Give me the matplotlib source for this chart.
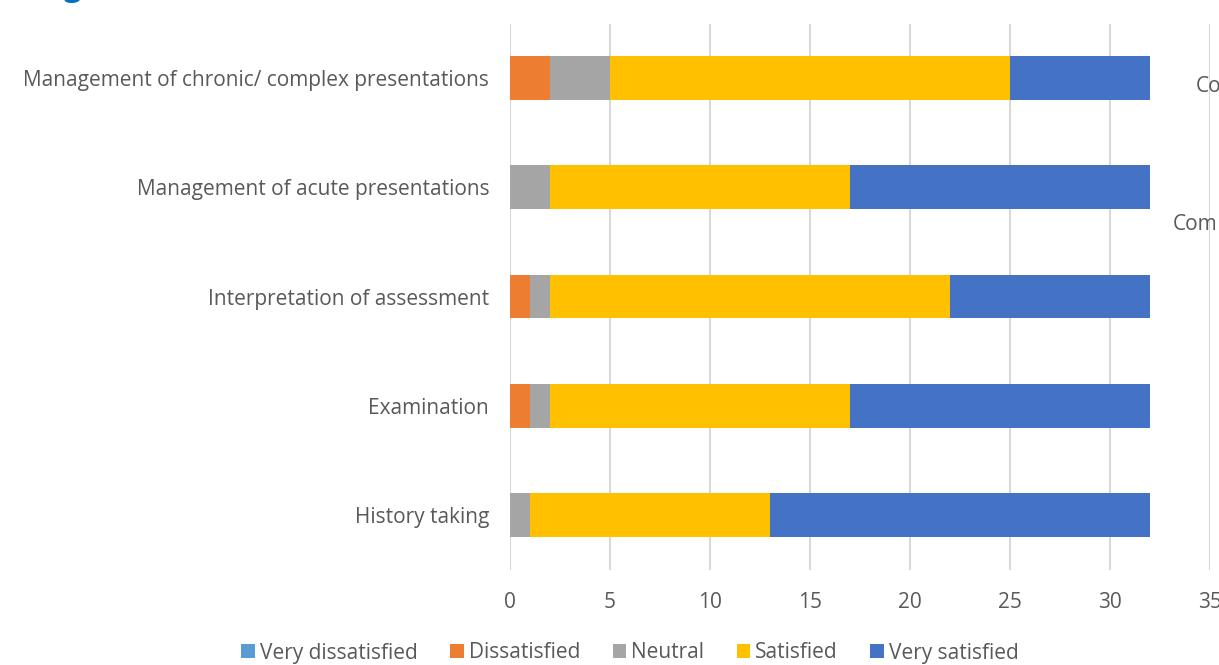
import matplotlib.pyplot as plt
import numpy as np

plt.rcParams['font.family'] = ['Open Sans', 'DejaVu Sans']

# categories listed bottom to top
skills = ["History taking", "Examination", "Interpretation of assessment",
          "Management of acute presentations",
          "Management of chronic/ complex presentations"]

levels = ["Very dissatisfied", "Dissatisfied", "Neutral", "Satisfied", "Very satisfied"]
colors = ["#5b9bd5", "#ed7d31", "#a5a5a5", "#ffc000", "#4472c4"]

very_dissatisfied = [0, 0, 0, 0, 0]
dissatisfied = [0, 1, 1, 0, 2]
neutral = [1, 1, 1, 2, 3]
satisfied = [12, 15, 20, 15, 20]
very_satisfied = [19, 15, 10, 15, 7]

series = [very_dissatisfied, dissatisfied, neutral, satisfied, very_satisfied]

fig = plt.figure(figsize=(12.19, 6.65), dpi=100)
ax = fig.add_axes([510 / 1219, 1 - 569.5 / 665, 700 / 1219, 546 / 665])

y = np.arange(len(skills))
left = np.zeros(len(skills))
for name, vals, col in zip(levels, series, colors):
    ax.barh(y, vals, left=left, height=0.4, color=col, label=name, zorder=3)
    left += np.array(vals)

ax.set_xlim(0, 35)
ax.set_ylim(-0.5, len(skills) - 0.5)
ax.set_xticks(range(0, 36, 5))
ax.set_yticks(y)
ax.set_yticklabels(skills)
ax.tick_params(axis='both', length=0, labelsize=15, labelcolor='#595959')
ax.tick_params(axis='x', pad=16)
ax.tick_params(axis='y', pad=15)
ax.grid(axis='x', color='#d9d9d9', linewidth=1.5, zorder=0)
for s in ax.spines.values():
    s.set_visible(False)

leg = fig.legend(loc='center', bbox_to_anchor=(630 / 1219, 1 - 653 / 665), ncol=5,
                 frameon=False, fontsize=15, handlelength=0.65, handleheight=0.65,
                 handletextpad=0.25, columnspacing=1.55, labelcolor='#595959')

# text from the neighbouring panel, cut by the right edge
fig.text(1196 / 1219, 1 - 87 / 665, "Co", fontsize=15, color='#595959', va='center')
fig.text(1173 / 1219, 1 - 225 / 665, "Com", fontsize=15, color='#595959', va='center')
fig.text(64 / 1219, 1 + 4 / 665, "g", fontsize=22, color='#0070c0',
         fontweight='bold', va='baseline')

fig.savefig('out.png', dpi=100)
